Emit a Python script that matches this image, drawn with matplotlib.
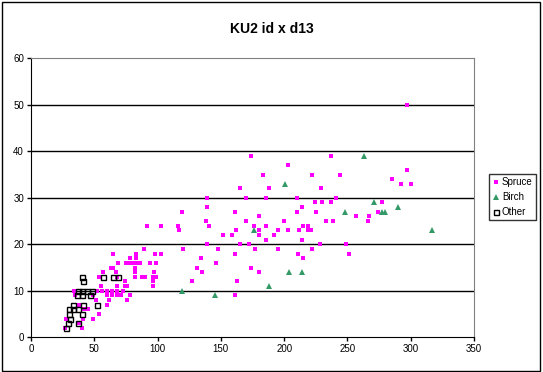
import matplotlib
matplotlib.use("Agg")
import matplotlib.pyplot as plt
from matplotlib.patches import Rectangle

plt.rcParams['font.family'] = ['Liberation Sans', 'DejaVu Sans']

# values
spruce_x = [69, 75, 78, 80, 82, 85, 86, 94, 99, 146,
            63, 65, 82, 131, 174,
            57, 67, 82, 97, 135, 180,
            54, 68, 82, 88, 90, 96, 99,
            74, 96, 127, 163,
            55, 68, 74, 76, 96,
            34, 52, 56, 60, 64, 68, 73,
            35, 49, 60, 64, 68, 71, 78, 161,
            51, 62, 76,
            38, 60,
            41, 42, 45,
            54,
            28, 41, 49,
            38,
            27, 40,
            78, 83, 134, 215,
            65, 83, 98, 103, 161, 211, 251,
            89, 120, 148, 177, 195, 222,
            139, 165, 172, 228, 249,
            186, 214,
            152, 159, 180, 192,
            117, 162, 180, 195, 203, 212, 219, 221,
            92, 103, 116, 141, 176, 186, 215, 219,
            138, 170, 200, 233, 239, 266,
            180, 257, 267,
            119, 161, 210, 225, 274,
            139, 214,
            224, 230, 237, 277,
            139, 170, 186, 210, 241,
            165, 188, 229,
            292, 300,
            285,
            183, 222, 244,
            297,
            203,
            174, 237,
            297]
spruce_y = [16] * 10 + [15] * 5 + [14] * 6 + [13] * 7 + [12] * 4 + [11] * 5 \
    + [10] * 7 + [9] * 8 + [8] * 3 + [7] * 2 + [6] * 3 + [5] + [4] * 3 + [3] + [2] * 2 \
    + [17] * 4 + [18] * 7 + [19] * 6 + [20] * 5 + [21] * 2 + [22] * 4 + [23] * 8 \
    + [24] * 8 + [25] * 6 + [26] * 3 + [27] * 5 + [28] * 2 + [29] * 4 + [30] * 5 \
    + [32] * 3 + [33] * 2 + [34] + [35] * 3 + [36] + [37] + [39] * 2 + [50]

birch_x = [119, 145, 176, 188, 201, 204, 214, 248, 263, 271, 277, 280, 290, 317]
birch_y = [10, 9, 23, 11, 33, 14, 14, 27, 39, 29, 27, 27, 28, 23]

other_x = [40, 41, 37, 40, 44, 48, 36, 40, 47, 57, 65, 69,
           33, 41, 52, 30, 33, 37, 30, 40, 31, 29, 37, 28]
other_y = [13, 12, 10, 10, 10, 10, 9, 9, 9, 13, 13, 13,
           7, 7, 7, 6, 6, 6, 5, 5, 4, 3, 3, 2]

x_ticks = [0, 50, 100, 150, 200, 250, 300, 350]
y_ticks = [0, 10, 20, 30, 40, 50, 60]

fig = plt.figure(figsize=(5.43, 3.72), dpi=100)
ax = fig.add_axes([0.0571, 0.0933, 0.8158, 0.75])

for g in y_ticks[1:-1]:
    ax.axhline(g, color='black', lw=1, zorder=1)

ax.plot(spruce_x, spruce_y, 's', color='#ff00ff', ms=3, mew=0, ls='none',
        label='Spruce', zorder=3)
ax.plot(birch_x, birch_y, '^', color='#339966', ms=4.5, mew=0, ls='none',
        label='Birch', zorder=3)
ax.plot(other_x, other_y, 's', mfc='none', mec='black', ms=3.6, mew=1, ls='none',
        label='Other', zorder=3)

ax.set_xlim(0, 350)
ax.set_ylim(0, 60)
ax.set_xticks(x_ticks)
ax.set_yticks(y_ticks)
ax.tick_params(labelsize=7, length=3, width=1, direction='out', pad=2)
for side in ['left', 'bottom']:
    ax.spines[side].set_color('black')
for side in ['top', 'right']:
    ax.spines[side].set_color('#808080')

fig.text(0.5, 0.922, 'KU2 id x d13', ha='center', va='center',
         fontsize=10, fontweight='bold')

leg = fig.legend(loc='center', bbox_to_anchor=(0.944, 0.47), fontsize=7,
                 frameon=True, fancybox=False, handlelength=0.6,
                 handletextpad=0.35, borderpad=0.35, labelspacing=0.5,
                 borderaxespad=0)
leg.get_frame().set_edgecolor('black')
leg.get_frame().set_linewidth(1)

fig.patches.append(Rectangle((0.003, 0.004), 0.992, 0.99, transform=fig.transFigure,
                             fill=False, edgecolor='black', lw=1))

fig.savefig('out.png', dpi=100)
